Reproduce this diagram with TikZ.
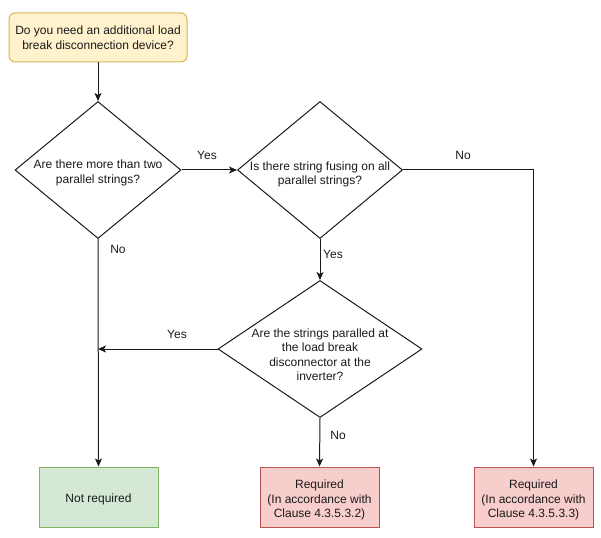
\documentclass[tikz,border=0pt]{standalone}
\usepackage{fontspec}
\setmainfont{Liberation Sans}
\usetikzlibrary{shapes.geometric,arrows.meta}
\definecolor{startfill}{HTML}{FFF2CC}
\definecolor{startdraw}{HTML}{D6B656}
\definecolor{okfill}{HTML}{D5E8D4}
\definecolor{okdraw}{HTML}{82B366}
\definecolor{reqfill}{HTML}{F8CECC}
\definecolor{reqdraw}{HTML}{B85450}
\definecolor{ink}{HTML}{1A1A1A}
\newcommand{\myup}[1]{\rule{0pt}{\dimexpr 9pt+#1\relax}}
\begin{document}
\begin{tikzpicture}[x=1pt,y=-1pt,
  every node/.style={font=\fontsize{12}{14.5}\selectfont, text=ink, align=center},
  startbox/.style={rectangle, rounded corners=6pt, draw=startdraw, fill=startfill, line width=1pt,
    minimum width=178pt, minimum height=49pt, inner sep=0pt},
  decision/.style={diamond, draw=ink, line width=1pt, inner xsep=0pt, inner ysep=-16pt},
  okbox/.style={rectangle, draw=okdraw, fill=okfill, line width=1pt,
    minimum width=119pt, minimum height=60pt, inner sep=0pt},
  reqbox/.style={rectangle, draw=reqdraw, fill=reqfill, line width=1pt,
    minimum width=119pt, minimum height=60pt, inner sep=0pt},
  conn/.style={draw=ink, line width=1pt, -{Stealth[length=8pt,width=7pt,inset=2pt]}},
  lbl/.style={inner sep=0pt}
]
\useasboundingbox (0,0) rectangle (601,537);

\node[startbox] (start) at (98,37.5) {Do you need an additional load\\break disconnection device?};
\node[decision, aspect=1.2, minimum width=166pt, minimum height=137pt] (d1) at (98,170)
  {\myup{5pt}Are there more than two\\parallel strings?};
\node[decision, aspect=1.2, minimum width=165pt, minimum height=137pt] (d2) at (320,170)
  {\myup{8pt}Is there string fusing on all\\parallel strings?};
\node[decision, aspect=1.49, minimum width=204pt, minimum height=137pt] (d3) at (320,349)
  {\myup{11pt}Are the strings paralled at\\the load break\\disconnector at the\\inverter?};
\node[okbox] (nr) at (98.5,497) {\myup{4pt}Not required};
\node[reqbox] (r1) at (319.5,497) {\myup{6pt}Required\\(In accordance with\\Clause 4.3.5.3.2)};
\node[reqbox] (r2) at (533.5,497) {\myup{6pt}Required\\(In accordance with\\Clause 4.3.5.3.3)};

\coordinate (j) at (d3.west -| d1.south);

\draw[conn] (start.south) -- (d1.north);
\draw[conn] (d1.east) -- (d2.west);
\draw[conn] (d2.east) -| (r2.north);
\draw[conn] (d2.south) -- (d3.north);
\draw[conn] (d1.south) -- (nr.north);
\draw[conn] (d3.west) -- (j);
\draw[conn] (d3.south) -- (r1.north);

\node[lbl] (l1) at (207,155) {Yes};
\node[lbl] (l2) at (463,155) {No};
\node[lbl] (l3) at (333,254) {Yes};
\node[lbl] (l4) at (118,249) {No};
\node[lbl] (l5) at (177,334) {Yes};
\node[lbl] (l6) at (338,435) {No};
\end{tikzpicture}
\end{document}
